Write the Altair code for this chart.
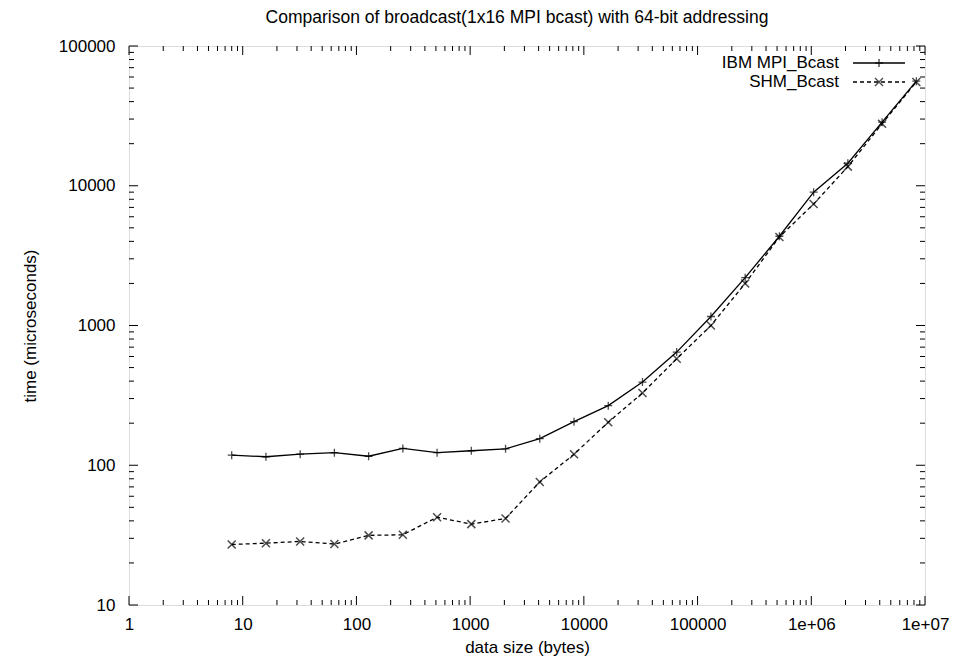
import altair as alt
import pandas as pd

sizes = [8, 16, 32, 64, 128, 256, 512, 1024, 2048, 4096, 8192, 16384, 32768,
         65536, 131072, 262144, 524288, 1048576, 2097152, 4194304, 8388608]
ibm = [118, 115, 120, 123, 116, 132, 123, 127, 131, 155, 205, 267, 394,
       645, 1160, 2200, 4350, 9000, 14500, 28500, 56000]
shm = [27.1, 27.7, 28.5, 27.3, 31.5, 31.8, 42.5, 37.9, 41.6, 76, 120, 203, 329,
       578, 1000, 2000, 4300, 7400, 13700, 27800, 55300]

x_major = [1, 10, 100, 1000, 10000, 100000, 1000000, 10000000]
y_major = [10, 100, 1000, 10000, 100000]
mult = [2, 3, 4, 5, 6, 7, 8, 9]
x_minor = [m * d for d in x_major[:-1] for m in mult]
y_minor = [m * d for d in y_major[:-1] for m in mult]

W, H = 796, 559
FONT = "Liberation Sans"
PLUS = "M-1,0L1,0M0,-1L0,1"
CROSS = "M-1,-1L1,1M-1,1L1,-1"

df_ibm = pd.DataFrame({"size": sizes, "time": ibm})
df_shm = pd.DataFrame({"size": sizes, "time": shm})

xs = alt.Scale(type="log", domain=[1, 10000000], nice=False)
ys = alt.Scale(type="log", domain=[10, 100000], nice=False)

x_axis = alt.Axis(values=x_major, title="data size (bytes)", domain=False, ticks=False,
                  grid=False, labelFont=FONT, labelFontSize=17, labelPadding=11,
                  labelColor="black", titleFont=FONT, titleFontSize=17,
                  titleFontWeight="normal", titleColor="black", titlePadding=7,
                  labelExpr="datum.value >= 1000000 ? '1e+0' + round(log(datum.value)/LN10) : format(datum.value, 'd')",
                  labelFlush=False)
y_axis = alt.Axis(values=y_major, title="time (microseconds)", domain=False, ticks=False,
                  grid=False, labelFont=FONT, labelFontSize=17, labelPadding=14,
                  labelColor="black", titleFont=FONT, titleFontSize=17,
                  titleFontWeight="normal", titleColor="black", titlePadding=19,
                  format="d", labelFlush=False)

line_ibm = alt.Chart(df_ibm).mark_line(color="black", strokeWidth=1.3).encode(
    x=alt.X("size:Q", scale=xs, axis=x_axis),
    y=alt.Y("time:Q", scale=ys, axis=y_axis))
pts_ibm = alt.Chart(df_ibm).mark_point(shape=PLUS, size=64, color="black",
                                       strokeWidth=1.3, filled=False).encode(
    x=alt.X("size:Q", scale=xs), y=alt.Y("time:Q", scale=ys))
line_shm = alt.Chart(df_shm).mark_line(color="black", strokeWidth=1.3,
                                       strokeDash=[4, 3]).encode(
    x=alt.X("size:Q", scale=xs), y=alt.Y("time:Q", scale=ys))
pts_shm = alt.Chart(df_shm).mark_point(shape=CROSS, size=64, color="black",
                                       strokeWidth=1.5, filled=False).encode(
    x=alt.X("size:Q", scale=xs), y=alt.Y("time:Q", scale=ys))

# inward ticks on all four sides
def xticks(vals, length):
    d = pd.DataFrame({"v": vals})
    bot = alt.Chart(d).mark_rule(color="black", strokeWidth=1).encode(
        x=alt.X("v:Q", scale=xs), y=alt.value(H), y2=alt.value(H - length))
    top = alt.Chart(d).mark_rule(color="black", strokeWidth=1).encode(
        x=alt.X("v:Q", scale=xs), y=alt.value(0), y2=alt.value(length))
    return [bot, top]

def yticks(vals, length):
    d = pd.DataFrame({"v": vals})
    left = alt.Chart(d).mark_rule(color="black", strokeWidth=1).encode(
        y=alt.Y("v:Q", scale=ys), x=alt.value(0), x2=alt.value(length))
    right = alt.Chart(d).mark_rule(color="black", strokeWidth=1).encode(
        y=alt.Y("v:Q", scale=ys), x=alt.value(W), x2=alt.value(W - length))
    return [left, right]

ticks = xticks(x_major, 9) + xticks(x_minor, 5) + yticks(y_major, 9) + yticks(y_minor, 5)

# legend (gnuplot style: label left, sample right)
legend_names = ["IBM MPI_Bcast", "SHM_Bcast"]
leg_df = pd.DataFrame({"name": legend_names})
ly = [17, 36]
lx_text = 710
lx0, lx1 = 724, 776
leg = []
for i, name in enumerate(legend_names):
    d = leg_df[leg_df.name == name]
    leg.append(alt.Chart(d).mark_text(align="right", baseline="middle", font=FONT,
                                      fontSize=17, color="black").encode(
        text="name:N", x=alt.value(lx_text), y=alt.value(ly[i])))
    leg.append(alt.Chart(d).mark_rule(color="black", strokeWidth=1.3,
                                      strokeDash=[] if i == 0 else [4, 3]).encode(
        x=alt.value(lx0), x2=alt.value(lx1), y=alt.value(ly[i])))
    leg.append(alt.Chart(d).mark_point(shape=PLUS if i == 0 else CROSS, size=64,
                                       color="black", strokeWidth=1.4, filled=False).encode(
        x=alt.value((lx0 + lx1) / 2), y=alt.value(ly[i])))

chart = alt.layer(line_ibm, pts_ibm, line_shm, pts_shm, *ticks, *leg).properties(
    width=W, height=H,
    title=alt.TitleParams("Comparison of broadcast(1x16 MPI bcast) with 64-bit addressing",
                          font=FONT, fontSize=17.5, fontWeight="normal", color="black",
                          offset=11, dx=-10),
    autosize=alt.AutoSizeParams(type="none"),
    padding={"left": 129, "top": 46, "right": 31, "bottom": 59},
).configure_view(stroke="black", strokeWidth=1.5).configure(background="white")

chart.save("out.html", embed_options={"renderer": "svg", "actions": False})
